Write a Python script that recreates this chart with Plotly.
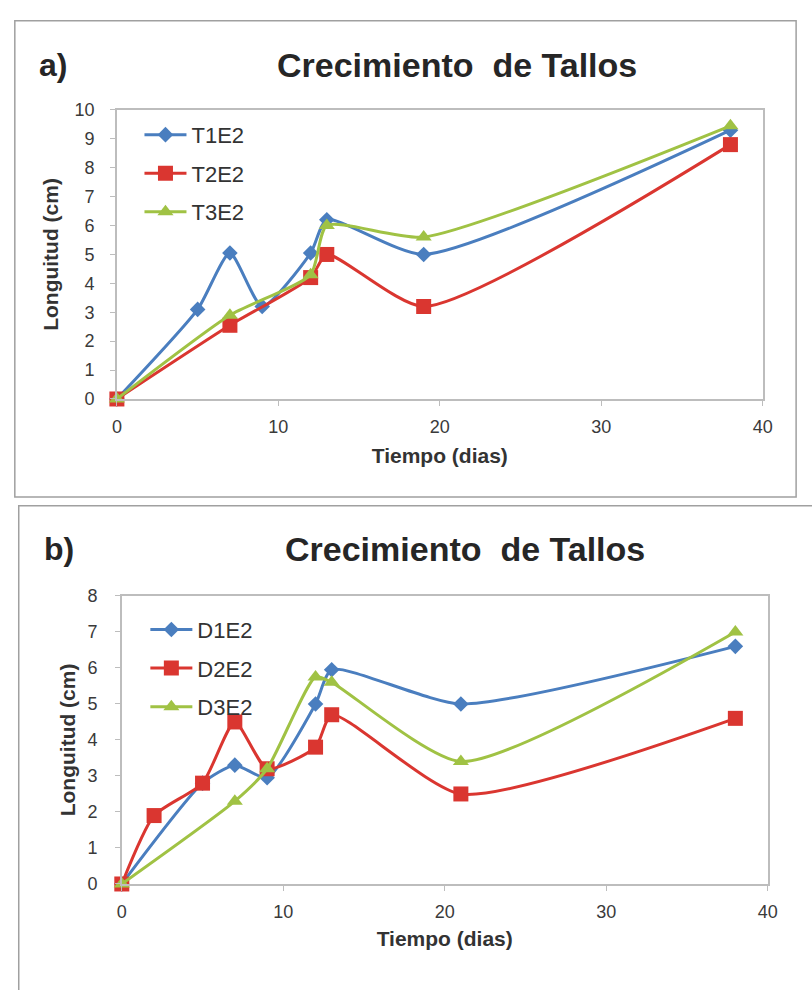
import plotly.graph_objects as go

# ---- data ----
dias_a_T1 = [0, 5, 7, 9, 12, 13, 19, 38]
T1E2 = [0, 3.1, 5.05, 3.2, 5.05, 6.2, 5.0, 9.3]
dias_a_T2 = [0, 7, 12, 13, 19, 38]
T2E2 = [0, 2.55, 4.2, 5.0, 3.2, 8.8]
dias_a_T3 = [0, 7, 12, 13, 19, 38]
T3E2 = [0, 2.9, 4.3, 6.0, 5.6, 9.45]

dias_b_D1 = [0, 5, 7, 9, 12, 13, 21, 38]
D1E2 = [0, 2.8, 3.3, 2.95, 5.0, 5.95, 5.0, 6.6]
dias_b_D2 = [0, 2, 5, 7, 9, 12, 13, 21, 38]
D2E2 = [0, 1.9, 2.8, 4.5, 3.2, 3.8, 4.7, 2.5, 4.6]
dias_b_D3 = [0, 7, 9, 12, 13, 21, 38]
D3E2 = [0, 2.3, 3.2, 5.75, 5.6, 3.4, 7.0]

x_ticks = [0, 10, 20, 30, 40]
y_ticks_a = list(range(0, 11))
y_ticks_b = list(range(0, 9))

W, H = 812, 990
BLUE = "#4A7EBF"
RED = "#DA3630"
GREEN = "#A0C244"
FONT = "Liberation Sans, Arial, sans-serif"

def px(x):
    return x / W

def py(y):
    return 1 - y / H

fig = go.Figure()

def add(x, y, name, color, symbol, size, xa, ya, legend):
    fig.add_trace(go.Scatter(
        x=x, y=y, name=name, mode="lines+markers",
        line=dict(color=color, width=3, shape="spline", smoothing=0.6),
        marker=dict(symbol=symbol, size=size, color=color),
        xaxis=xa, yaxis=ya, legend=legend, legendgroup=name,
        cliponaxis=False,
    ))

add(dias_a_T1, T1E2, "T1E2", BLUE, "diamond", 12, "x", "y", "legend")
add(dias_a_T2, T2E2, "T2E2", RED, "square", 15, "x", "y", "legend")
add(dias_a_T3, T3E2, "T3E2", GREEN, "triangle-up", 14, "x", "y", "legend")

add(dias_b_D1, D1E2, "D1E2", BLUE, "diamond", 12, "x2", "y2", "legend2")
add(dias_b_D2, D2E2, "D2E2", RED, "square", 15, "x2", "y2", "legend2")
add(dias_b_D3, D3E2, "D3E2", GREEN, "triangle-up", 14, "x2", "y2", "legend2")

axis_common = dict(
    showgrid=False, zeroline=False, showline=True, linecolor="#BDBDBD",
    linewidth=1.5, mirror=True, ticks="outside", ticklen=5, tickcolor="#BDBDBD",
    tickfont=dict(family=FONT, size=18, color="#3A3A3A"),
)
title_font = dict(family=FONT, size=21, color="#333333")

legend_common = dict(
    font=dict(family=FONT, size=22, color="#333333"),
    bgcolor="rgba(0,0,0,0)", itemwidth=42, tracegroupgap=7,
    xanchor="left", yanchor="top",
)

fig.update_layout(
    width=W, height=H, margin=dict(l=0, r=0, t=0, b=0),
    paper_bgcolor="white", plot_bgcolor="white", showlegend=True,
    xaxis=dict(domain=[px(114), px(772)], range=[0, 40], tickvals=x_ticks,
               anchor="y", ticklabelstandoff=6,
               title=dict(text="<b>Tiempo (dias)</b>", font=title_font, standoff=12),
               **axis_common),
    yaxis=dict(domain=[py(397), py(102)], range=[0, 10], tickvals=y_ticks_a,
               anchor="x", ticklabelstandoff=12,
               title=dict(text="<b>Longuitud (cm)</b>", font=title_font, standoff=10),
               **axis_common),
    xaxis2=dict(domain=[px(119), px(777)], range=[0, 40], tickvals=x_ticks,
                anchor="y2", ticklabelstandoff=6,
                title=dict(text="<b>Tiempo (dias)</b>", font=title_font, standoff=10),
                **axis_common),
    yaxis2=dict(domain=[py(892), py(598)], range=[0, 8], tickvals=y_ticks_b,
                anchor="x2", ticklabelstandoff=14,
                title=dict(text="<b>Longuitud (cm)</b>", font=title_font, standoff=6),
                **axis_common),
    legend=dict(x=px(137), y=py(106), **legend_common),
    legend2=dict(x=px(143), y=py(611), **legend_common),
)

# panel borders
fig.add_shape(type="rect", xref="paper", yref="paper",
              x0=px(10), x1=px(806), y0=py(497), y1=py(11),
              line=dict(color="#A0A0A0", width=1.5))
fig.add_shape(type="rect", xref="paper", yref="paper",
              x0=px(14), x1=px(830), y0=py(1010), y1=py(506),
              line=dict(color="#A0A0A0", width=1.5))

# titles
for text, xc, yc in [("Crecimiento&nbsp; de Tallos", 461, 56), ("Crecimiento&nbsp; de Tallos", 469, 550)]:
    fig.add_annotation(text="<b>" + text + "</b>", xref="paper", yref="paper",
                       x=px(xc), y=py(yc), showarrow=False, xanchor="center", yanchor="middle",
                       font=dict(family=FONT, size=34, color="#262626"))
for text, xc, yc in [("a)", 49, 56), ("b)", 55, 550)]:
    fig.add_annotation(text="<b>" + text + "</b>", xref="paper", yref="paper",
                       x=px(xc), y=py(yc), showarrow=False, xanchor="center", yanchor="middle",
                       font=dict(family=FONT, size=32, color="#262626"))

fig.write_html("out.html")
